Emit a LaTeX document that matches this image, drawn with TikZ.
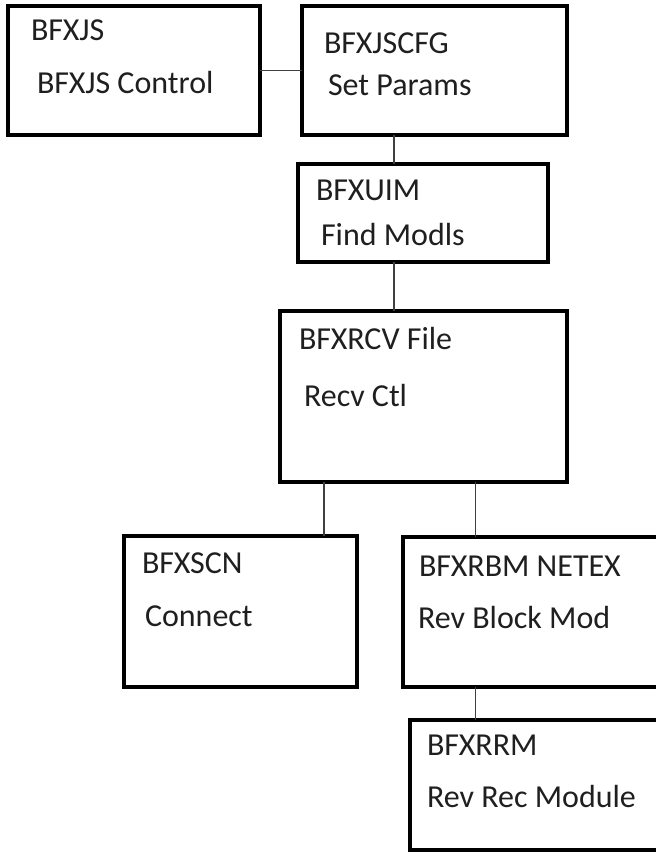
\documentclass[tikz,border=0pt]{standalone}
\usepackage{fontspec}
\setmainfont{Carlito}
\begin{document}
\begin{tikzpicture}[x=1pt,y=-1pt,
  modbox/.style={draw=black,line width=3.2pt,rectangle,inner sep=0pt,outer sep=0pt},
  lbl/.style={anchor=base west,inner sep=0pt,outer sep=0pt,text=black!88,font=\fontsize{32}{37}\selectfont},
  conn/.style={draw=black!75,line width=1.1pt}]
\useasboundingbox (0,0) rectangle (656,852);
\clip (0,0) rectangle (656,852);
% boxes
\node[modbox,minimum width=252pt,minimum height=129pt] (b1) at (134,70.5) {};
\node[modbox,minimum width=265pt,minimum height=129pt] (b2) at (434.5,70.5) {};
\node[modbox,minimum width=250pt,minimum height=98pt] (b3) at (423,213) {};
\node[modbox,minimum width=287pt,minimum height=171pt] (b4) at (423.5,396.5) {};
\node[modbox,minimum width=233pt,minimum height=151pt] (b5) at (240.5,611.5) {};
\node[modbox,minimum width=267pt,minimum height=150pt] (b6) at (536.5,612) {};
\node[modbox,minimum width=260pt,minimum height=130pt] (b7) at (540,785) {};
% texts
\node[lbl] (t1a) at ([shift={(23,34)}]b1.north west) {BFXJS};
\node[lbl] (t1b) at ([shift={(29,87)}]b1.north west) {BFXJS Control};
\node[lbl] (t2a) at ([shift={(22,47)}]b2.north west) {BFXJSCFG};
\node[lbl] (t2b) at ([shift={(26,89)}]b2.north west) {Set Params};
\node[lbl] (t3a) at ([shift={(18,36)}]b3.north west) {BFXUIM};
\node[lbl] (t3b) at ([shift={(23,81)}]b3.north west) {Find Modls};
\node[lbl] (t4a) at ([shift={(19,38)}]b4.north west) {BFXRCV File};
\node[lbl] (t4b) at ([shift={(24,95)}]b4.north west) {Recv Ctl};
\node[lbl] (t5a) at ([shift={(18,37)}]b5.north west) {BFXSCN};
\node[lbl] (t5b) at ([shift={(21,90)}]b5.north west) {Connect};
\node[lbl] (t6a) at ([shift={(16,39)}]b6.north west) {BFXRBM NETEX};
\node[lbl] (t6b) at ([shift={(15,91)}]b6.north west) {Rev Block Mod};
\node[lbl] (t7a) at ([shift={(17,35)}]b7.north west) {BFXRRM};
\node[lbl] (t7b) at ([shift={(17,87)}]b7.north west) {Rev Rec Module};
% connector columns
\coordinate (v1) at (394,0);
\coordinate (v2) at (324,0);
\coordinate (v3) at (475.5,0);
% connectors
\draw[conn] (b1.east) -- (b2.west);
\draw[conn] (b2.south -| v1) -- (b3.north -| v1);
\draw[conn] (b3.south -| v1) -- (b4.north -| v1);
\draw[conn] (b4.south -| v2) -- (b5.north -| v2);
\draw[conn] (b4.south -| v3) -- (b6.north -| v3);
\draw[conn] (b6.south -| v3) -- (b7.north -| v3);
\end{tikzpicture}
\end{document}
